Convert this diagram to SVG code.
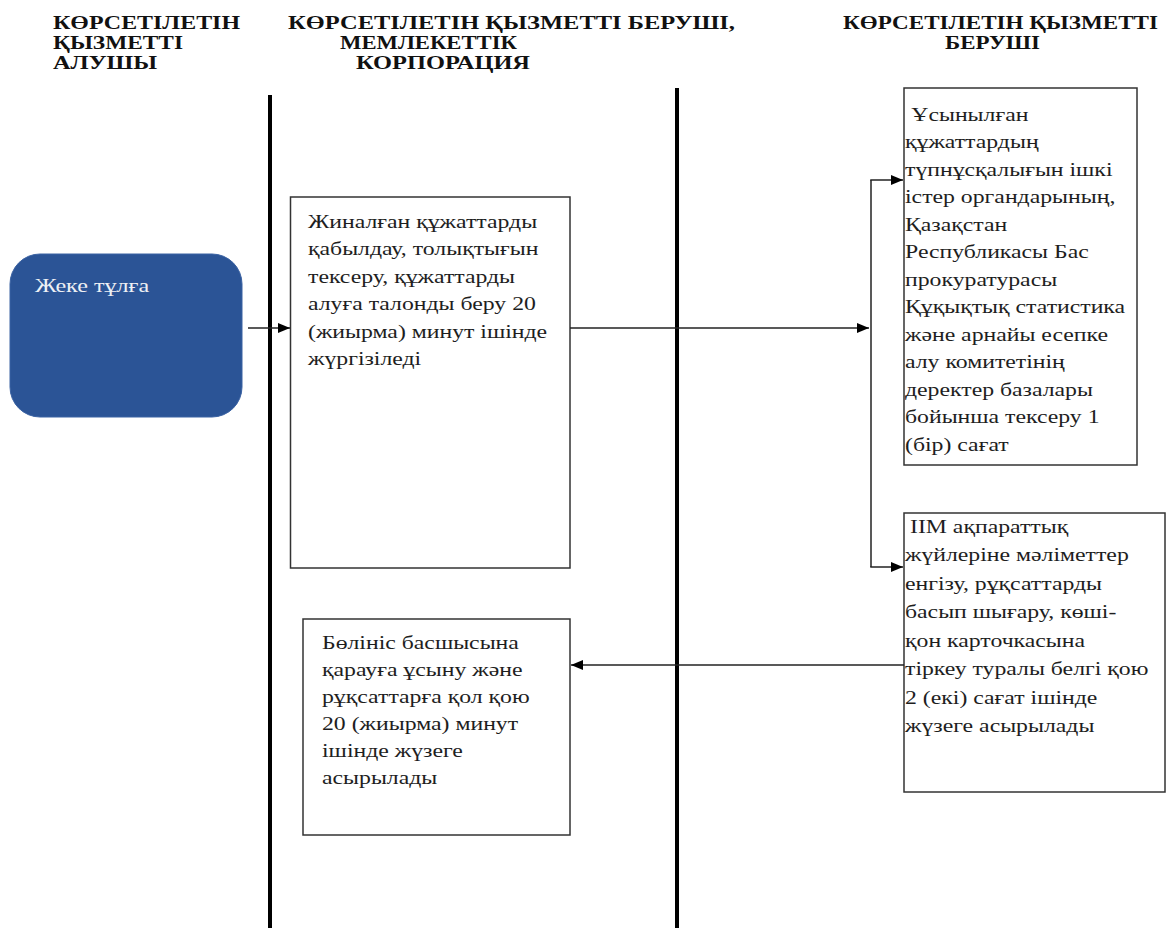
<svg xmlns="http://www.w3.org/2000/svg" width="1167" height="928" viewBox="0 0 1167 928">
<style>
.hdr{font-family:"Liberation Serif","Times New Roman",serif;font-weight:bold;font-size:19px;fill:#111}
.txt{font-family:"Liberation Serif","Times New Roman",serif;font-size:19px;fill:#1e1e1e}
.box{fill:#fff;stroke:#333;stroke-width:1.5}
.lane{stroke:#000;stroke-width:4}
.con{stroke:#222;stroke-width:1.5;fill:none}
</style>
<defs>
<marker id="ah" viewBox="0 0 12 10" refX="12" refY="5" markerWidth="12" markerHeight="10" markerUnits="userSpaceOnUse" orient="auto">
<path d="M0,0 L12,5 L0,10 z" fill="#000"/>
</marker>
</defs>
<rect width="1167" height="928" fill="#fff"/>
<g id="headers">
<text class="hdr" x="53" y="29" textLength="187" lengthAdjust="spacingAndGlyphs">КӨРСЕТІЛЕТІН</text>
<text class="hdr" x="53" y="49" textLength="130" lengthAdjust="spacingAndGlyphs">ҚЫЗМЕТТІ</text>
<text class="hdr" x="53" y="69" textLength="104" lengthAdjust="spacingAndGlyphs">АЛУШЫ</text>
<text class="hdr" x="288" y="29" textLength="447" lengthAdjust="spacingAndGlyphs">КӨРСЕТІЛЕТІН ҚЫЗМЕТТІ БЕРУШІ,</text>
<text class="hdr" x="340" y="49" textLength="177" lengthAdjust="spacingAndGlyphs">МЕМЛЕКЕТТІК</text>
<text class="hdr" x="356" y="69" textLength="174" lengthAdjust="spacingAndGlyphs">КОРПОРАЦИЯ</text>
<text class="hdr" x="843" y="29" textLength="315" lengthAdjust="spacingAndGlyphs">КӨРСЕТІЛЕТІН ҚЫЗМЕТТІ</text>
<text class="hdr" x="945" y="49" textLength="95" lengthAdjust="spacingAndGlyphs">БЕРУШІ</text>
</g>
<g id="lanes">
<line class="lane" x1="270" y1="95" x2="270" y2="928"/>
<line class="lane" x1="677" y1="88" x2="677" y2="928"/>
</g>
<g id="node-applicant">
<rect x="10" y="254" width="232" height="163" rx="30" fill="#2b5496" stroke="#3a62a3" stroke-width="1"/>
<g transform="translate(35,0) scale(1.27,1)">
<text class="txt" x="0" y="292" style="fill:#eef0f4">Жеке тұлға</text>
</g>
</g>
<g id="node-receive">
<rect class="box" x="290.5" y="197" width="279.5" height="371"/>
<g transform="translate(308,0) scale(1.25,1)">
<text class="txt" x="0" y="228">Жиналған құжаттарды</text>
<text class="txt" x="0" y="255.5">қабылдау, толықтығын</text>
<text class="txt" x="0" y="283">тексеру, құжаттарды</text>
<text class="txt" x="0" y="310.5">алуға талонды беру 20</text>
<text class="txt" x="0" y="338">(жиырма) минут ішінде</text>
<text class="txt" x="0" y="365.5">жүргізіледі</text>
</g>
</g>
<g id="node-check">
<rect class="box" x="904" y="88" width="233" height="377"/>
<g transform="translate(905,0) scale(1.25,1)">
<text class="txt" x="5" y="121">Ұсынылған</text>
<text class="txt" x="0" y="148.5">құжаттардың</text>
<text class="txt" x="0" y="176">түпнұсқалығын ішкі</text>
<text class="txt" x="0" y="203.5">істер органдарының,</text>
<text class="txt" x="0" y="231">Қазақстан</text>
<text class="txt" x="0" y="258.5">Республикасы Бас</text>
<text class="txt" x="0" y="286">прокуратурасы</text>
<text class="txt" x="0" y="313.5">Құқықтық статистика</text>
<text class="txt" x="0" y="341">және арнайы есепке</text>
<text class="txt" x="0" y="368.5">алу комитетінің</text>
<text class="txt" x="0" y="396">деректер базалары</text>
<text class="txt" x="0" y="423.5">бойынша тексеру 1</text>
<text class="txt" x="0" y="451">(бір) сағат</text>
</g>
</g>
<g id="node-enter">
<rect class="box" x="904" y="513" width="261" height="279"/>
<g transform="translate(905,0) scale(1.25,1)">
<text class="txt" x="4" y="533">ІІМ ақпараттық</text>
<text class="txt" x="0" y="561.5">жүйлеріне мәліметтер</text>
<text class="txt" x="0" y="590">енгізу, рұқсаттарды</text>
<text class="txt" x="0" y="618.5">басып шығару, көші-</text>
<text class="txt" x="0" y="647">қон карточкасына</text>
<text class="txt" x="0" y="675.5">тіркеу туралы белгі қою</text>
<text class="txt" x="0" y="704">2 (екі) сағат ішінде</text>
<text class="txt" x="0" y="732.5">жүзеге асырылады</text>
</g>
</g>
<g id="node-sign">
<rect class="box" x="303" y="619" width="267" height="216"/>
<g transform="translate(322,0) scale(1.25,1)">
<text class="txt" x="0" y="649">Бөлініс басшысына</text>
<text class="txt" x="0" y="676">қарауға ұсыну және</text>
<text class="txt" x="0" y="703">рұқсаттарға қол қою</text>
<text class="txt" x="0" y="730">20 (жиырма) минут</text>
<text class="txt" x="0" y="757">ішінде жүзеге</text>
<text class="txt" x="0" y="784">асырылады</text>
</g>
</g>
<g id="connectors">
<line class="con" x1="248" y1="328" x2="290" y2="328" marker-end="url(#ah)"/>
<line class="con" x1="570" y1="328" x2="869" y2="328" marker-end="url(#ah)"/>
<line class="con" x1="871" y1="180" x2="871" y2="567"/>
<line class="con" x1="870.25" y1="180" x2="903" y2="180" marker-end="url(#ah)"/>
<line class="con" x1="870.25" y1="567" x2="903" y2="567" marker-end="url(#ah)"/>
<line class="con" x1="904" y1="665" x2="571" y2="665" marker-end="url(#ah)"/>
</g>
</svg>
